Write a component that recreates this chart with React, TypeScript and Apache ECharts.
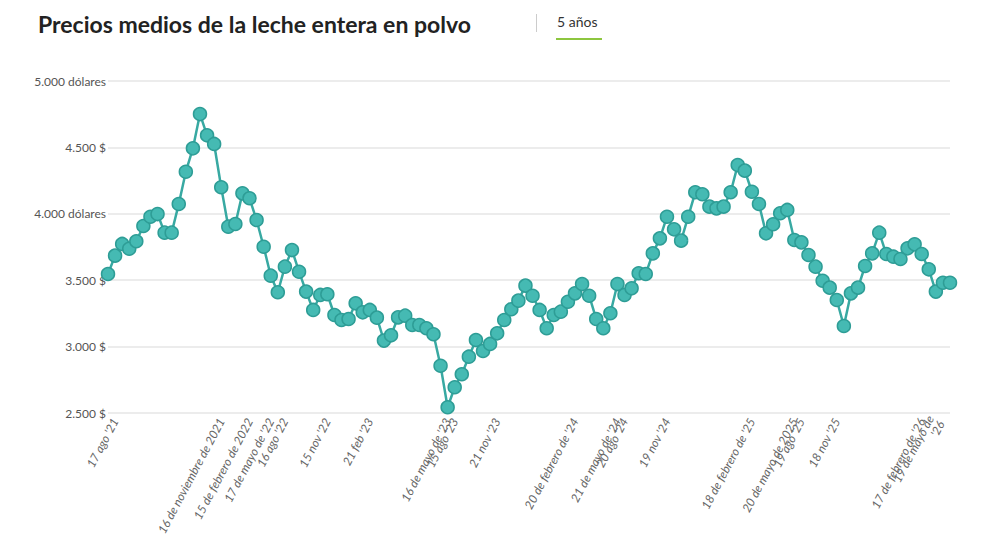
import { useEffect, useRef } from 'react';
import * as echarts from 'echarts';

const prices = [
  3547, 3685, 3773, 3737, 3793, 3908, 3978, 3998, 3858, 3858,
  4074, 4317, 4493, 4751, 4591, 4526, 4200, 3903, 3923, 4154,
  4117, 3953, 3752, 3534, 3409, 3602, 3727, 3564, 3414, 3276,
  3389, 3394, 3238, 3200, 3208, 3326, 3258, 3276, 3218, 3045,
  3085, 3220, 3233, 3163, 3163, 3138, 3093, 2856, 2543, 2694,
  2792, 2924, 3050, 2967, 3020, 3100, 3200, 3281, 3346, 3459,
  3383, 3276, 3138, 3238, 3263, 3338, 3401, 3471, 3383, 3208,
  3138, 3251, 3471, 3389, 3439, 3552, 3547, 3702, 3815, 3978,
  3883, 3798, 3978, 4162, 4147, 4054, 4041, 4054, 4162, 4367,
  4325, 4166, 4074, 3853, 3921, 4004, 4029, 3803, 3785, 3690,
  3602, 3496, 3444, 3351, 3155, 3401, 3444, 3607, 3702, 3858,
  3697, 3677, 3660, 3740, 3770, 3697, 3582, 3414, 3481, 3481,
];

const tickIndex = [1, 16, 20, 23, 25, 31, 37, 48, 49, 55, 66, 72, 73, 79, 91, 97, 98, 103, 115, 117];
const tickLabels = [
  "17 ago '21", '16 de noviembre de 2021', '15 de febrero de 2022', "17 de mayo de '22", "16 ago '22",
  "15 nov '22", "21 feb '23", "16 de mayo de '23", "15 ago '23", "21 nov '23",
  "20 de febrero de '24", "21 de mayo de '24", "20 ago '24", "19 nov '24", "18 de febrero de '25",
  '20 de mayo de 2025', "19 ago '25", "18 nov '25", "17 de febrero de '26", "19 de mayo de\n'26",
];

const yLabels: Record<number, string> = {
  5000: '5.000 dólares', 4500: '4.500 $', 4000: '4.000 dólares',
  3500: '3.500 $', 3000: '3.000 $', 2500: '2.500 $',
};

const categories = prices.map((_, i) => {
  const k = tickIndex.indexOf(i);
  return k >= 0 ? tickLabels[k] : 'p' + i;
});

export default function App() {
  const ref = useRef<HTMLDivElement>(null);

  useEffect(() => {
    if (!ref.current) return;
    const chart = echarts.init(ref.current, null, { renderer: 'svg' });
    chart.setOption({
      animation: false,
      backgroundColor: '#fff',
      textStyle: { fontFamily: 'Lato, sans-serif' },
      graphic: [
        { type: 'text', left: 30, top: 4, style: { text: 'Precios medios de la leche entera en polvo', fontSize: 23, fontWeight: 'bold', fill: '#222', fontFamily: 'Lato' } },
        { type: 'rect', shape: { x: 528, y: 6, width: 1, height: 18 }, style: { fill: '#ccc' } },
        { type: 'text', left: 549, top: 6, style: { text: '5 años', fontSize: 14, fill: '#333', fontFamily: 'Lato' } },
        { type: 'rect', shape: { x: 548, y: 30, width: 46, height: 2 }, style: { fill: '#8dc63f' } },
      ],
      grid: { left: 100, right: 42, top: 73, bottom: 129, outerBoundsMode: 'none' },
      xAxis: {
        type: 'category',
        data: categories,
        boundaryGap: false,
        axisLine: { show: false },
        axisTick: { show: false },
        axisLabel: {
          interval: 0,
          rotate: 62,
          fontStyle: 'italic',
          fontSize: 12,
          color: '#666',
          margin: 6,
          formatter: (v: string) => (/^p\d+$/.test(v) ? '' : v),
        },
      },
      yAxis: {
        type: 'value',
        min: 2500,
        max: 5000,
        interval: 500,
        axisLabel: { color: '#555', fontSize: 12, margin: 2, formatter: (v: number) => yLabels[v] ?? '' },
        splitLine: { lineStyle: { color: '#e6e6e6', width: 1.5 } },
      },
      series: [
        {
          type: 'line',
          data: prices,
          symbol: 'circle',
          symbolSize: 13,
          lineStyle: { color: '#38a9a2', width: 2.5 },
          itemStyle: { color: '#45bab3', borderColor: '#2e9d96', borderWidth: 1.5 },
        },
      ],
    });
    return () => chart.dispose();
  }, []);

  return <div ref={ref} style={{ width: 984, height: 534 }} />;
}
